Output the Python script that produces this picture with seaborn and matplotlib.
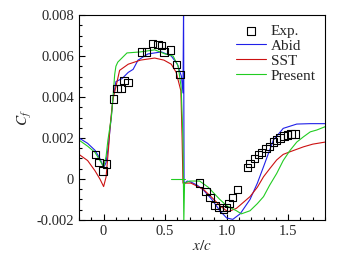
import numpy as np
import pandas as pd
import matplotlib
matplotlib.use('Agg')
import matplotlib.pyplot as plt
import seaborn as sns
from matplotlib.ticker import MultipleLocator, FixedLocator, FixedFormatter

# experiment
exp_x = [-0.068, -0.038, -0.006, 0.022, 0.081, 0.11, 0.14, 0.166, 0.198, 0.307, 0.348, 0.40,
         0.443, 0.47, 0.49, 0.546, 0.59, 0.62, 0.782, 0.831, 0.864, 0.905, 0.937, 0.972,
         1.0, 1.02, 1.046, 1.086, 1.168, 1.19, 1.225, 1.258, 1.285, 1.32, 1.347, 1.38,
         1.407, 1.434, 1.467, 1.494, 1.524, 1.557]
exp_y = [0.0012, 0.0008, 0.00039, 0.00073, 0.0039, 0.0044, 0.0044, 0.0048, 0.0047, 0.0062,
         0.0062, 0.0066, 0.00655, 0.0065, 0.0062, 0.0063, 0.0056, 0.0051, -0.0002, -0.0006,
         -0.0009, -0.0013, -0.0014, -0.0015, -0.0014, -0.0012, -0.0009, -0.0005, 0.00055,
         0.00077, 0.001, 0.0012, 0.0013, 0.0015, 0.0016, 0.0018, 0.0019, 0.002, 0.0021,
         0.00215, 0.0022, 0.0022]

# Abid
abid_x = [-0.2, -0.13, -0.07, -0.03, 0.0, 0.02, 0.04, 0.06, 0.076, 0.10, 0.15, 0.2, 0.24,
          0.28, 0.36, 0.47, 0.55, 0.60, 0.633, 0.645, 0.650, 0.654, 0.66, 0.68, 0.71, 0.76,
          0.81, 0.88, 0.945, 1.0, 1.05, 1.11, 1.19, 1.25, 1.3, 1.38, 1.46, 1.57, 1.68, 1.8]
abid_y = [0.0020, 0.00174, 0.0014, 0.001, 0.00055, 0.0008, 0.0017, 0.0029, 0.0039, 0.00475,
          0.0049, 0.0052, 0.00535, 0.0058, 0.0061, 0.0062, 0.0060, 0.0056, 0.0050, 0.0042,
          0.0085, -0.0003, -0.0002, -0.0001, -0.00015, -0.0003, -0.00053, -0.0010, -0.00155,
          -0.0019, -0.00197, -0.0017, -0.0010, -0.0002, 0.0006, 0.0019, 0.00247, 0.00268,
          0.0027, 0.0027]

# SST
sst_x = [-0.2, -0.13, -0.07, -0.03, 0.0, 0.02, 0.04, 0.05, 0.065, 0.076, 0.10, 0.13, 0.2,
         0.3, 0.415, 0.49, 0.55, 0.59, 0.628, 0.638, 0.645, 0.67, 0.71, 0.81, 0.88, 0.945,
         1.01, 1.08, 1.19, 1.25, 1.3, 1.35, 1.407, 1.46, 1.516, 1.625, 1.7, 1.8]
sst_y = [0.0012, 0.0009, 0.0004, 0.0, -0.00037, 0.0001, 0.0015, 0.0024, 0.0033, 0.0039,
         0.0045, 0.0053, 0.0056, 0.0058, 0.0059, 0.0058, 0.0056, 0.0052, 0.0043, 0.002,
         -0.0002, -0.0002, -0.0002, -0.0005, -0.0009, -0.0013, -0.0016, -0.00143, -0.00086,
         -0.0004, 0.00011, 0.0005, 0.00093, 0.0012, 0.00133, 0.00157, 0.0017, 0.0018]

# Present
pres_x = [-0.2, -0.13, -0.07, -0.03, 0.0, 0.02, 0.035, 0.063, 0.08, 0.09, 0.10, 0.115, 0.19,
          0.3, 0.415, 0.5, 0.565, 0.606, 0.63, 0.645, 0.652, 0.658, 0.7, 0.78, 0.85, 0.945,
          1.0, 1.08, 1.12, 1.19, 1.25, 1.3, 1.35, 1.407, 1.46, 1.516, 1.57, 1.625, 1.68,
          1.733, 1.8]
pres_y = [0.0019, 0.0016, 0.0013, 0.0009, 0.0006, 0.0011, 0.0019, 0.0030, 0.0043, 0.0051,
          0.0055, 0.0057, 0.00615, 0.0062, 0.0063, 0.0061, 0.0060, 0.0055, 0.0045, 0.002,
          -0.0021, -0.0002, -0.0001, -0.0001, -0.0004, -0.0010, -0.0013, -0.00155, -0.0017,
          -0.00155, -0.0012, -0.00086, -0.0003, 0.00027, 0.0009, 0.0014, 0.0018, 0.00206,
          0.0023, 0.00239, 0.00255]
pres2_x = [0.55, 0.66]
pres2_y = [0.0, 0.0]

xticks = [0, 0.5, 1.0, 1.5]
xticklabels = ['0', '0.5', '1.0', '1.5']
yticks = [-0.002, 0, 0.002, 0.004, 0.006, 0.008]
yticklabels = ['-0.002', '0', '0.002', '0.004', '0.006', '0.008']

sns.set_style('ticks')
plt.rcParams['font.family'] = ['Liberation Serif', 'DejaVu Serif']
plt.rcParams['mathtext.fontset'] = 'stix'

fig = plt.figure(figsize=(3.54, 2.54), dpi=100)
ax = fig.add_axes([0.2232, 0.1339, 0.695, 0.807])

sns.scatterplot(x=exp_x, y=exp_y, marker='s', s=28, facecolors='none', edgecolor='black',
                linewidth=0.8, ax=ax, label='Exp.', zorder=5)
sns.lineplot(x=abid_x, y=abid_y, sort=False, color='#2020e8', lw=0.8, ax=ax, label='Abid')
sns.lineplot(x=sst_x, y=sst_y, sort=False, color='#cc1111', lw=0.8, ax=ax, label='SST')
sns.lineplot(x=pres_x, y=pres_y, sort=False, color='#22cc22', lw=0.8, ax=ax, label='Present')
sns.lineplot(x=pres2_x, y=pres2_y, sort=False, color='#22cc22', lw=0.8, ax=ax)

ax.set_xlim(-0.2, 1.8)
ax.set_ylim(-0.002, 0.008)
ax.xaxis.set_major_locator(FixedLocator(xticks))
ax.xaxis.set_major_formatter(FixedFormatter(xticklabels))
ax.yaxis.set_major_locator(FixedLocator(yticks))
ax.yaxis.set_major_formatter(FixedFormatter(yticklabels))
ax.xaxis.set_minor_locator(MultipleLocator(0.1))
ax.yaxis.set_minor_locator(MultipleLocator(0.0005))
ax.tick_params(which='both', direction='in', top=False, right=False, labelsize=10.5,
               width=0.8, color='black')
ax.tick_params(which='major', length=4)
ax.tick_params(which='minor', length=2)
for sp in ax.spines.values():
    sp.set_linewidth(0.8)
    sp.set_color('black')

ax.set_xlabel('$x/c$', fontsize=11, labelpad=1)
ax.set_ylabel('$C_f$', fontsize=11, labelpad=2)

h, l = ax.get_legend_handles_labels()
ax.legend(h[:4], l[:4], loc='upper right', frameon=False, fontsize=11,
          handlelength=2.0, handletextpad=0.3, labelspacing=0.08,
          borderaxespad=0.3, borderpad=0.3)

fig.savefig('out.png', dpi=100)
